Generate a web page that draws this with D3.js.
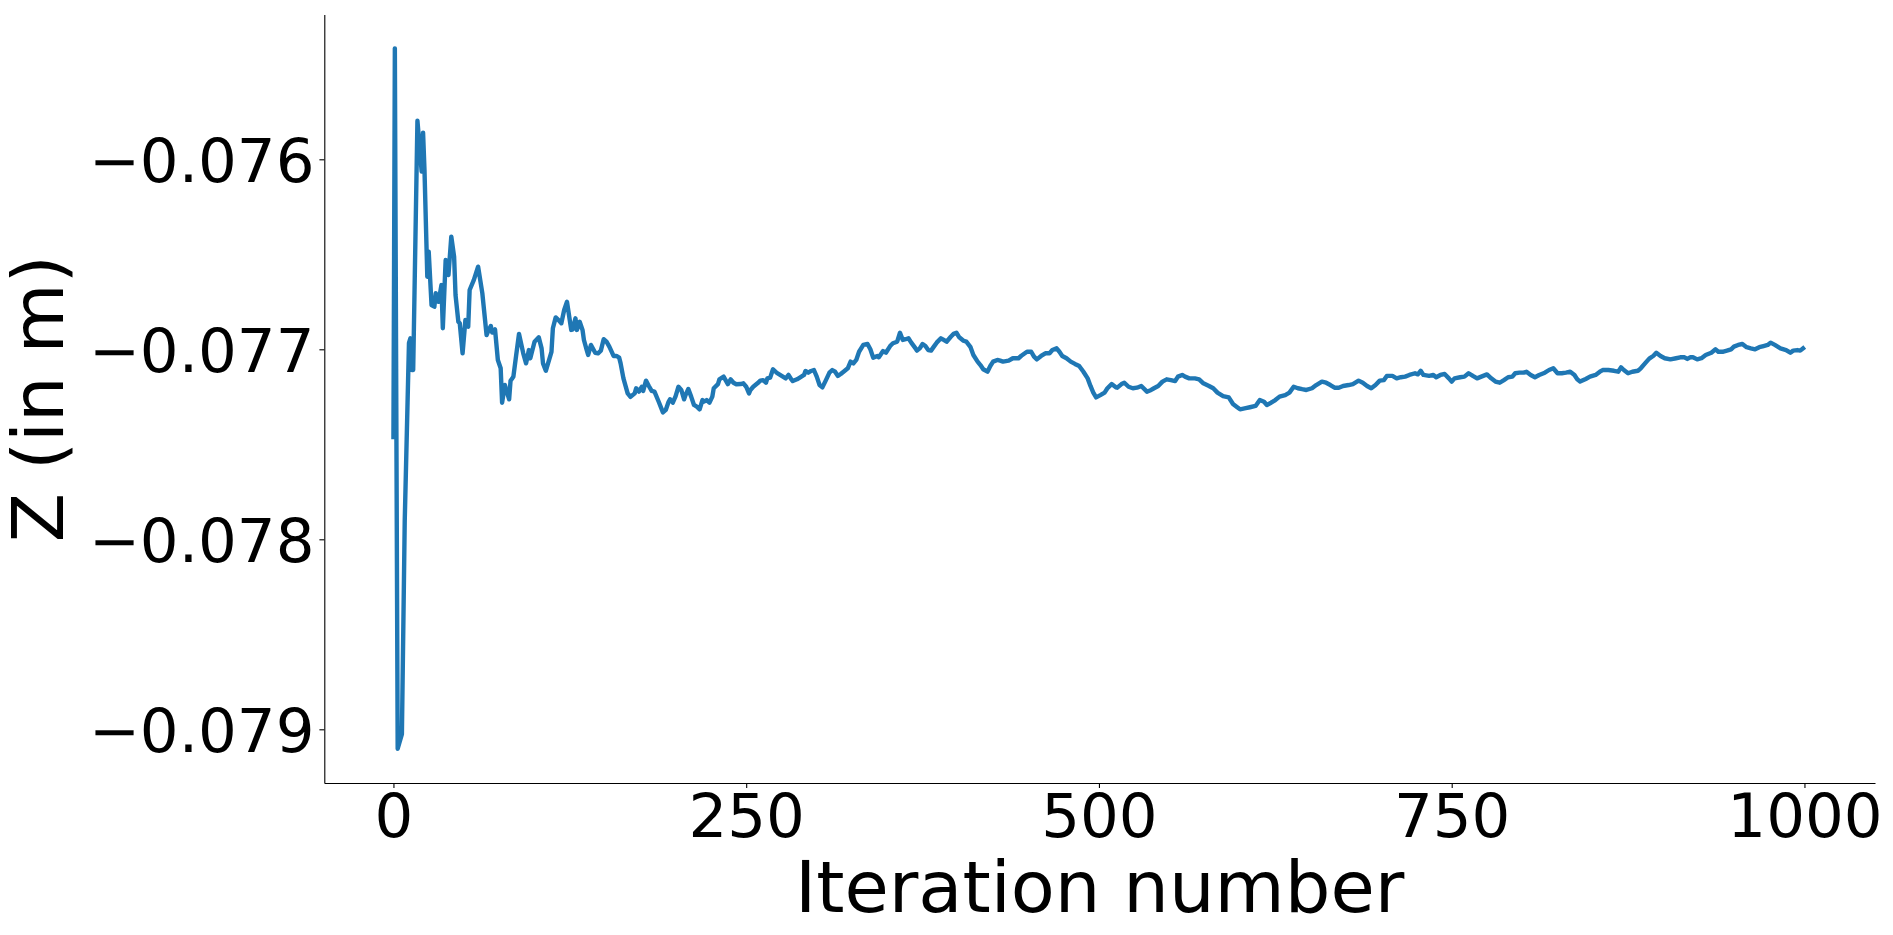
<!DOCTYPE html>
<html>
<head>
<meta charset="utf-8">
<script src="https://cdn.jsdelivr.net/npm/d3@7"></script>
<style>
  body { margin: 0; background: #fff; }
  svg { display: block; }
</style>
</head>
<body>
<div id="chart"></div>
<script>
// iteration index of each sample
const iterations = [
  0, 1, 3, 6, 8, 11, 12, 13, 14, 17, 20, 21, 22, 24, 25, 27, 29, 30, 32, 34,
  35, 37, 39, 41, 43, 44, 46, 47, 49, 51, 53, 54, 57, 60, 63, 66, 67, 69, 70, 72,
  74, 76, 77, 79, 82, 83, 85, 87, 89, 92, 94, 96, 97, 100, 103, 105, 106, 108, 112, 113,
  115, 117, 119, 121, 123, 126, 127, 129, 130, 132, 134, 135, 137, 138, 140, 143, 145, 147, 149, 151,
  153, 156, 158, 160, 161, 163, 166, 168, 171, 172, 174, 176, 177, 179, 181, 183, 185, 188, 191, 193,
  195, 196, 198, 200, 202, 204, 206, 207, 209, 211, 213, 215, 217, 219, 220, 222, 224, 226, 227, 230,
  231, 234, 236, 237, 239, 241, 243, 246, 248, 250, 252, 253, 255, 258, 260, 262, 264, 265, 267, 269,
  272, 274, 276, 278, 280, 282, 283, 286, 288, 291, 292, 294, 296, 298, 300, 302, 304, 306, 309, 311,
  313, 315, 317, 319, 322, 324, 326, 328, 330, 333, 336, 338, 340, 343, 344, 347, 349, 352, 354, 357,
  359, 361, 363, 365, 367, 370, 371, 373, 375, 377, 379, 381, 383, 385, 388, 390, 392, 395, 397, 399,
  401, 404, 406, 409, 411, 414, 416, 418, 421, 423, 425, 428, 430, 432, 436, 439, 443, 445, 449, 452,
  454, 456, 459, 462, 465, 467, 470, 472, 474, 477, 480, 483, 486, 489, 492, 494, 496, 498, 501, 504,
  506, 509, 512, 513, 516, 518, 521, 524, 527, 530, 534, 537, 539, 542, 545, 548, 551, 554, 556, 559,
  561, 564, 568, 571, 574, 578, 581, 584, 588, 592, 595, 598, 600, 604, 607, 611, 614, 617, 619, 622,
  625, 628, 632, 635, 638, 641, 644, 647, 651, 654, 658, 661, 664, 667, 670, 673, 677, 680, 684, 687,
  690, 693, 696, 699, 702, 704, 708, 711, 714, 717, 720, 724, 726, 728, 730, 734, 737, 739, 742, 745,
  748, 750, 752, 756, 759, 762, 765, 768, 771, 775, 778, 781, 784, 787, 790, 793, 795, 798, 801, 803,
  806, 809, 812, 816, 819, 822, 825, 828, 831, 834, 837, 839, 841, 845, 848, 852, 855, 857, 861, 865,
  868, 870, 872, 875, 878, 882, 884, 887, 890, 893, 895, 898, 901, 905, 909, 912, 915, 917, 919, 921,
  924, 927, 930, 934, 937, 939, 942, 945, 948, 950, 953, 956, 959, 962, 965, 968, 971, 974, 976, 979,
  981, 983, 987, 990, 992, 995, 997, 999
];

// Z position (m) at those iterations
const zValues = [
  -0.077462, -0.075416, -0.079102, -0.079025, -0.077904, -0.076968, -0.076942, -0.077109, -0.077109, -0.075797,
  -0.076065, -0.075860, -0.076056, -0.076618, -0.076486, -0.076767, -0.076776, -0.076705, -0.076750, -0.076662,
  -0.076889, -0.076530, -0.076609, -0.076407, -0.076513, -0.076714, -0.076855, -0.076863, -0.077021, -0.076846,
  -0.076881, -0.076688, -0.076635, -0.076565, -0.076705, -0.076925, -0.076907, -0.076877, -0.076912, -0.076895,
  -0.077056, -0.077100, -0.077281, -0.077188, -0.077263, -0.077165, -0.077144, -0.077030, -0.076919, -0.077021,
  -0.077074, -0.077004, -0.077047, -0.076960, -0.076937, -0.076995, -0.077074, -0.077113, -0.077013, -0.076889,
  -0.076832, -0.076846, -0.076863, -0.076793, -0.076750, -0.076898, -0.076895, -0.076837, -0.076898, -0.076855,
  -0.076898, -0.076951, -0.077004, -0.077030, -0.076977, -0.077018, -0.077021, -0.077007, -0.076947, -0.076960,
  -0.076986, -0.077035, -0.077035, -0.077044, -0.077074, -0.077153, -0.077232, -0.077250, -0.077232, -0.077205,
  -0.077223, -0.077197, -0.077219, -0.077165, -0.077193, -0.077219, -0.077223, -0.077276, -0.077332, -0.077319,
  -0.077276, -0.077263, -0.077281, -0.077246, -0.077197, -0.077214, -0.077263, -0.077241, -0.077209, -0.077249,
  -0.077293, -0.077302, -0.077316, -0.077267, -0.077276, -0.077267, -0.077281, -0.077249, -0.077205, -0.077183,
  -0.077158, -0.077144, -0.077170, -0.077183, -0.077158, -0.077176, -0.077184, -0.077183, -0.077179, -0.077197,
  -0.077232, -0.077214, -0.077197, -0.077179, -0.077165, -0.077162, -0.077176, -0.077153, -0.077149, -0.077105,
  -0.077126, -0.077135, -0.077144, -0.077153, -0.077135, -0.077158, -0.077167, -0.077158, -0.077149, -0.077135,
  -0.077114, -0.077123, -0.077114, -0.077109, -0.077144, -0.077188, -0.077200, -0.077170, -0.077123, -0.077109,
  -0.077118, -0.077140, -0.077130, -0.077118, -0.077100, -0.077065, -0.077074, -0.077056, -0.077013, -0.076977,
  -0.076972, -0.077000, -0.077044, -0.077035, -0.077042, -0.077009, -0.077018, -0.076983, -0.076968, -0.076960,
  -0.076913, -0.076951, -0.076947, -0.076942, -0.076965, -0.076995, -0.077007, -0.076995, -0.076972, -0.076983,
  -0.077004, -0.077007, -0.076986, -0.076965, -0.076942, -0.076951, -0.076960, -0.076934, -0.076919, -0.076913,
  -0.076937, -0.076955, -0.076960, -0.076989, -0.077030, -0.077065, -0.077083, -0.077105, -0.077118, -0.077088,
  -0.077065, -0.077056, -0.077060, -0.077065, -0.077060, -0.077047, -0.077047, -0.077034, -0.077013, -0.077013,
  -0.077039, -0.077053, -0.077035, -0.077021, -0.077021, -0.077004, -0.076995, -0.077013, -0.077035, -0.077047,
  -0.077065, -0.077077, -0.077088, -0.077118, -0.077153, -0.077193, -0.077228, -0.077253, -0.077241, -0.077228,
  -0.077205, -0.077183, -0.077200, -0.077202, -0.077183, -0.077176, -0.077197, -0.077205, -0.077202, -0.077193,
  -0.077223, -0.077214, -0.077205, -0.077193, -0.077170, -0.077158, -0.077162, -0.077167, -0.077144, -0.077135,
  -0.077144, -0.077153, -0.077153, -0.077158, -0.077179, -0.077193, -0.077205, -0.077228, -0.077246, -0.077253,
  -0.077288, -0.077305, -0.077316, -0.077310, -0.077305, -0.077298, -0.077267, -0.077276, -0.077293, -0.077281,
  -0.077267, -0.077249, -0.077241, -0.077228, -0.077197, -0.077205, -0.077210, -0.077214, -0.077205, -0.077188,
  -0.077170, -0.077176, -0.077188, -0.077202, -0.077202, -0.077193, -0.077188, -0.077183, -0.077165, -0.077176,
  -0.077193, -0.077205, -0.077188, -0.077165, -0.077162, -0.077140, -0.077140, -0.077153, -0.077147, -0.077144,
  -0.077135, -0.077126, -0.077132, -0.077113, -0.077135, -0.077140, -0.077135, -0.077147, -0.077135, -0.077130,
  -0.077153, -0.077170, -0.077153, -0.077147, -0.077144, -0.077126, -0.077140, -0.077153, -0.077144, -0.077132,
  -0.077153, -0.077170, -0.077176, -0.077162, -0.077147, -0.077144, -0.077126, -0.077123, -0.077123, -0.077118,
  -0.077135, -0.077147, -0.077135, -0.077123, -0.077109, -0.077100, -0.077126, -0.077126, -0.077123, -0.077118,
  -0.077135, -0.077158, -0.077170, -0.077156, -0.077144, -0.077135, -0.077118, -0.077109, -0.077109, -0.077113,
  -0.077118, -0.077095, -0.077109, -0.077126, -0.077118, -0.077113, -0.077100, -0.077074, -0.077049, -0.077034,
  -0.077018, -0.077035, -0.077047, -0.077053, -0.077047, -0.077042, -0.077042, -0.077051, -0.077042, -0.077042,
  -0.077053, -0.077047, -0.077030, -0.077018, -0.077000, -0.077013, -0.077013, -0.077007, -0.077000, -0.076986,
  -0.076977, -0.076972, -0.076989, -0.076995, -0.077000, -0.076989, -0.076983, -0.076977, -0.076965, -0.076977,
  -0.076986, -0.076995, -0.077004, -0.077018, -0.077007, -0.077004, -0.077007, -0.076995
];

const xTicks = [0, 250, 500, 750, 1000];
const yTicks = [-0.079, -0.078, -0.077, -0.076];

const width = 1893, height = 935;
const plot = {left: 324.3, right: 1875, top: 14.5, bottom: 783};
const font = "'DejaVu Sans', sans-serif";

const svg = d3.select('#chart').append('svg')
    .attr('width', width)
    .attr('height', height)
    .attr('viewBox', [0, 0, width, height]);

const x = d3.scaleLinear()
    .domain([-49, 1050])
    .range([plot.left, plot.right]);

const y = d3.scaleLinear()
    .domain([-0.0792826, -0.0752379])
    .range([plot.bottom, plot.top]);

const data = iterations.map((it, i) => ({it, z: zValues[i]}));

// bottom axis, only the spine and outward ticks
const xAxis = svg.append('g')
    .attr('transform', `translate(0,${plot.bottom})`)
    .call(d3.axisBottom(x).tickValues(xTicks).tickSize(4.9).tickPadding(5)
        .tickSizeOuter(0).tickFormat(d3.format('d')));

const yAxis = svg.append('g')
    .attr('transform', `translate(${plot.left},0)`)
    .call(d3.axisLeft(y).tickValues(yTicks).tickSize(4.9).tickPadding(4.9)
        .tickSizeOuter(0).tickFormat(d3.format('.3f')));

[xAxis, yAxis].forEach(g => {
    g.select('.domain').attr('stroke', '#000').attr('stroke-width', 1.1);
    g.selectAll('.tick line').attr('stroke', '#000').attr('stroke-width', 1.1);
    g.selectAll('.tick text')
        .attr('fill', '#000')
        .style('font-family', font)
        .style('font-size', '61px');
});
xAxis.selectAll('.tick text').attr('dy', '0.73em');
yAxis.selectAll('.tick text').attr('dy', '0.36em');

const line = d3.line()
    .x(d => x(d.it))
    .y(d => y(d.z));

svg.append('path')
    .datum(data)
    .attr('fill', 'none')
    .attr('stroke', '#1f77b4')
    .attr('stroke-width', 4.4)
    .attr('stroke-linejoin', 'round')
    .attr('stroke-linecap', 'square')
    .attr('d', line);

// axis labels
svg.append('text')
    .attr('x', (plot.left + plot.right) / 2)
    .attr('y', 912)
    .attr('text-anchor', 'middle')
    .style('font-family', font)
    .style('font-size', '72px')
    .text('Iteration number');

svg.append('text')
    .attr('transform', `translate(63,${(plot.top + plot.bottom) / 2}) rotate(-90)`)
    .attr('text-anchor', 'middle')
    .style('font-family', font)
    .style('font-size', '72px')
    .text('Z (in m)');
</script>
</body>
</html>
